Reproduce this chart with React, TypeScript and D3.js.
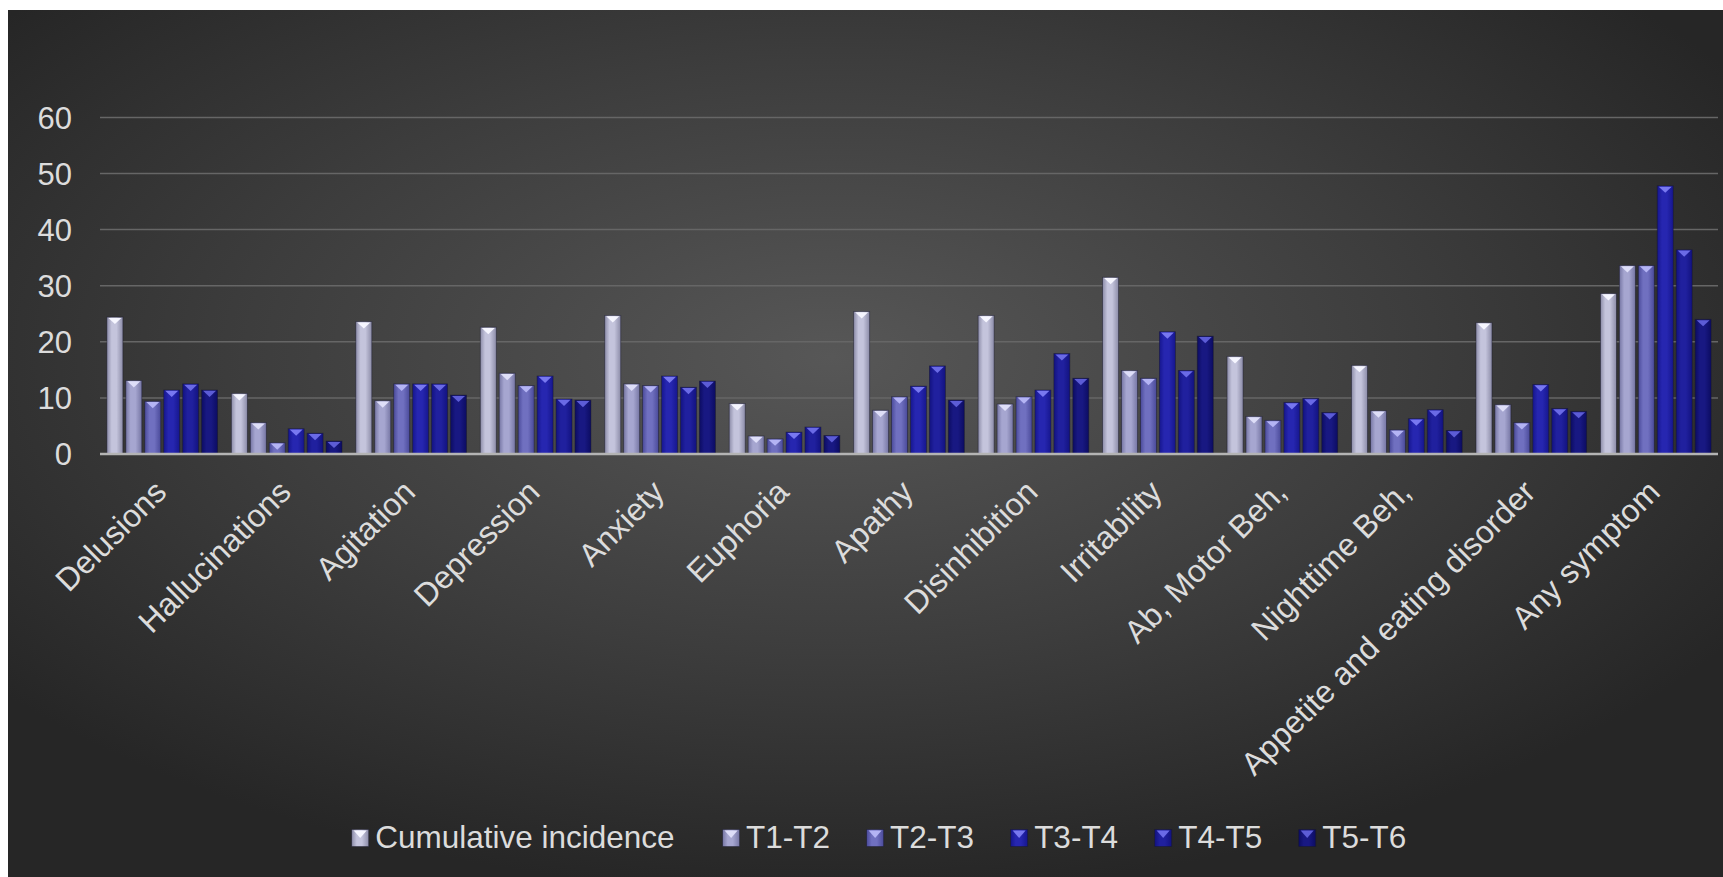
import React, { useEffect, useRef } from "react";
import * as d3 from "d3";

const categories = [
  "Delusions",
  "Hallucinations",
  "Agitation",
  "Depression",
  "Anxiety",
  "Euphoria",
  "Apathy",
  "Disinhibition",
  "Irritability",
  "Ab, Motor Beh,",
  "Nighttime Beh,",
  "Appetite and eating disorder",
  "Any symptom",
];
const seriesNames = ["Cumulative incidence", "T1-T2", "T2-T3", "T3-T4", "T4-T5", "T5-T6"];
const cumulative = [24.4, 10.8, 23.6, 22.6, 24.7, 9.0, 25.4, 24.7, 31.5, 17.4, 15.8, 23.4, 28.6];
const t1t2 = [13.1, 5.6, 9.5, 14.4, 12.5, 3.2, 7.8, 8.9, 14.9, 6.7, 7.7, 8.8, 33.6];
const t2t3 = [9.4, 2.0, 12.5, 12.2, 12.2, 2.7, 10.2, 10.2, 13.5, 6.0, 4.3, 5.6, 33.6];
const t3t4 = [11.4, 4.5, 12.5, 13.9, 13.9, 3.9, 12.1, 11.4, 21.8, 9.2, 6.3, 12.4, 47.8];
const t4t5 = [12.5, 3.7, 12.5, 9.8, 11.9, 4.8, 15.7, 17.9, 14.9, 9.9, 7.9, 8.1, 36.4];
const t5t6 = [11.4, 2.3, 10.5, 9.6, 13.0, 3.3, 9.6, 13.5, 21.0, 7.4, 4.2, 7.6, 24.0];
const yTicks = [0, 10, 20, 30, 40, 50, 60];

const seriesValues = [cumulative, t1t2, t2t3, t3t4, t4t5, t5t6];
// [edge, center, cap]
const seriesColors = [
  ["#8c8ca8", "#c4c4dc", "#f6f6ff"],
  ["#7676a4", "#a6a6d0", "#dedef8"],
  ["#4a4a9a", "#7070c0", "#b4b4f4"],
  ["#16168e", "#2626b0", "#7878f0"],
  ["#121280", "#20209e", "#6a6ae6"],
  ["#0c0c62", "#181882", "#5c5cd6"],
];

const W = 1723;
const H = 877;
const FONT = "'Liberation Sans', Arial, Helvetica, sans-serif";
const TEXT = "#dcdcdc";

export default function App() {
  const ref = useRef<SVGSVGElement | null>(null);

  useEffect(() => {
    const svg = d3.select(ref.current);
    svg.selectAll("*").remove();
    const defs = svg.append("defs");

    const bg = defs
      .append("radialGradient")
      .attr("id", "bg")
      .attr("cx", 0.48)
      .attr("cy", 0.4)
      .attr("r", 0.62);
    bg.append("stop").attr("offset", "0%").attr("stop-color", "#575757");
    bg.append("stop").attr("offset", "55%").attr("stop-color", "#3d3d3d");
    bg.append("stop").attr("offset", "100%").attr("stop-color", "#262626");

    seriesColors.forEach((c, i) => {
      const g = defs
        .append("linearGradient")
        .attr("id", `bar${i}`)
        .attr("x1", 0)
        .attr("x2", 1)
        .attr("y1", 0)
        .attr("y2", 0);
      g.append("stop").attr("offset", "0%").attr("stop-color", c[0]);
      g.append("stop").attr("offset", "30%").attr("stop-color", c[1]);
      g.append("stop").attr("offset", "60%").attr("stop-color", c[1]);
      g.append("stop").attr("offset", "100%").attr("stop-color", c[0]);
    });

    svg
      .append("rect")
      .attr("x", 8)
      .attr("y", 10)
      .attr("width", W - 8)
      .attr("height", H - 10)
      .attr("fill", "url(#bg)");

    const left = 100;
    const right = 1718;
    const y = d3.scaleLinear().domain([0, 60]).range([454, 117.4]);
    const x0 = d3
      .scaleBand<string>()
      .domain(categories)
      .range([left, right])
      .paddingInner(0.111)
      .paddingOuter(0.0555);
    const x1 = d3
      .scaleBand<string>()
      .domain(seriesNames)
      .range([0, x0.bandwidth()])
      .paddingInner(0.156);

    // gridlines
    svg
      .append("g")
      .selectAll("line")
      .data(yTicks.filter((t) => t > 0))
      .join("line")
      .attr("x1", left)
      .attr("x2", right)
      .attr("y1", (d) => y(d))
      .attr("y2", (d) => y(d))
      .attr("stroke", "#666666")
      .attr("stroke-width", 1.5);

    // y tick labels
    svg
      .append("g")
      .selectAll("text")
      .data(yTicks)
      .join("text")
      .attr("x", 72)
      .attr("y", (d) => y(d))
      .attr("dy", "0.36em")
      .attr("text-anchor", "end")
      .attr("font-family", FONT)
      .attr("font-size", 31)
      .attr("fill", TEXT)
      .text((d) => String(d));

    // bars
    const bw = x1.bandwidth();
    const groups = svg
      .append("g")
      .selectAll("g")
      .data(categories)
      .join("g")
      .attr("transform", (d) => `translate(${x0(d)},0)`);

    seriesNames.forEach((s, si) => {
      groups.each(function (cat, ci) {
        const v = seriesValues[si][ci];
        const g = d3.select(this);
        const bx = x1(s) as number;
        const top = y(v);
        const h = y(0) - top;
        g.append("rect")
          .attr("x", bx)
          .attr("y", top)
          .attr("width", bw)
          .attr("height", h)
          .attr("fill", `url(#bar${si})`)
          .attr("stroke", "#15152a")
          .attr("stroke-opacity", 0.55)
          .attr("stroke-width", 0.8);
        const capH = Math.min(7, h);
        g.append("path")
          .attr(
            "d",
            `M${bx + 1.5},${top + 0.8} L${bx + bw - 1.5},${top + 0.8} L${bx + bw / 2},${top + capH} Z`
          )
          .attr("fill", seriesColors[si][2]);
      });
    });

    // zero axis
    svg
      .append("line")
      .attr("x1", left)
      .attr("x2", right)
      .attr("y1", y(0))
      .attr("y2", y(0))
      .attr("stroke", "#b4b4b4")
      .attr("stroke-width", 2.5);

    // x labels
    svg
      .append("g")
      .selectAll("text")
      .data(categories)
      .join("text")
      .attr(
        "transform",
        (d) => `translate(${(x0(d) as number) + x0.bandwidth() / 2 + 6},494) rotate(-45)`
      )
      .attr("text-anchor", "end")
      .attr("font-family", FONT)
      .attr("font-size", 32)
      .attr("fill", TEXT)
      .text((d) => d);

    // legend
    const leg = svg.append("g");
    let lx = 351.7;
    const markerSize = 17;
    seriesNames.forEach((s, si) => {
      leg
        .append("rect")
        .attr("x", lx)
        .attr("y", 829.5)
        .attr("width", markerSize)
        .attr("height", markerSize)
        .attr("fill", `url(#bar${si})`)
        .attr("stroke", "#15152a")
        .attr("stroke-opacity", 0.5)
        .attr("stroke-width", 0.8);
      leg
        .append("path")
        .attr(
          "d",
          `M${lx + 2},${830.5} L${lx + markerSize - 2},${830.5} L${lx + markerSize / 2},${838} Z`
        )
        .attr("fill", seriesColors[si][2]);
      const t = leg
        .append("text")
        .attr("x", lx + 23.5)
        .attr("y", 848)
        .attr("font-family", FONT)
        .attr("font-size", 31.5)
        .attr("fill", TEXT)
        .text(s);
      const tw = (t.node() as SVGTextElement).getComputedTextLength();
      lx = lx + 23.5 + tw + (si === 0 ? 48 : 36.5);
    });
  }, []);

  return (
    <svg
      ref={ref}
      width={W}
      height={H}
      style={{ position: "absolute", left: 0, top: 0, display: "block" }}
    />
  );
}
